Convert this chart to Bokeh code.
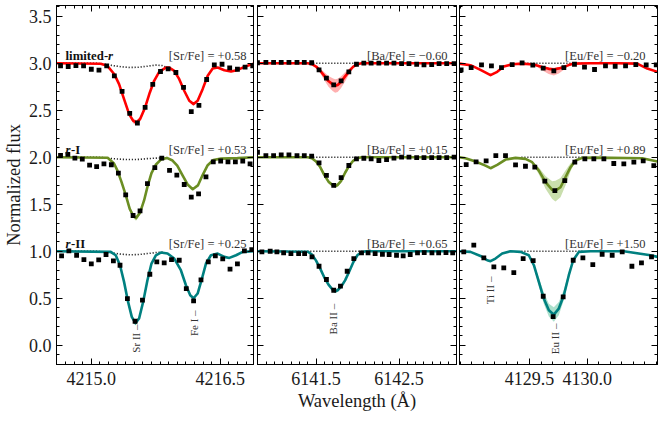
import numpy as np
from bokeh.plotting import figure
from bokeh.models import (Label, FixedTicker, LinearAxis, Range1d,
                          PrintfTickFormatter)
from bokeh.layouts import row
from bokeh.embed import file_html
from bokeh.resources import INLINE

# ============================ data ============================
ROW_NAMES = ["limited-r", "r-I", "r-II"]
ROW_OFFSETS = [2.0, 1.0, 0.0]
ROW_LABEL_PARTS = [[("limited-", "bold"), ("r", "bold italic")],
                   [("r", "bold italic"), ("-I", "bold")],
                   [("r", "bold italic"), ("-II", "bold")]]

Y_TICKS = [0.0, 0.5, 1.0, 1.5, 2.0, 2.5, 3.0, 3.5]
Y_LABEL = "Normalized flux"
X_LABEL = "Wavelength (Å)"

# ---------- Sr panel ----------
SR_X_TICKS = [4215.0, 4216.5]
SR_ABUND = ["[Sr/Fe] = +0.58", "[Sr/Fe] = +0.53", "[Sr/Fe] = +0.25"]
SR_LINE_IDS = ["Sr II –", "Fe I –"]
SR_LINE_WL = [4215.52, 4216.19]

SR_SYN_X_LIM = [4214.595, 4215.109, 4215.187, 4215.268, 4215.323, 4215.381, 4215.440, 4215.486, 4215.525, 4215.568, 4215.626, 4215.681, 4215.731, 4215.790, 4215.867, 4215.906, 4215.965, 4216.023, 4216.081, 4216.140, 4216.190, 4216.237, 4216.295, 4216.354, 4216.412, 4216.470, 4216.548, 4216.626, 4216.704, 4216.781, 4216.887]
SR_SYN_Y_LIM = [1.0, 0.995, 0.972, 0.883, 0.777, 0.618, 0.459, 0.389, 0.368, 0.406, 0.530, 0.689, 0.813, 0.908, 0.954, 0.954, 0.919, 0.830, 0.707, 0.601, 0.565, 0.601, 0.724, 0.866, 0.943, 0.954, 0.926, 0.912, 0.929, 0.961, 0.995]
SR_SYN_X_RI = [4214.595, 4215.19, 4215.264, 4215.303, 4215.35, 4215.40, 4215.447, 4215.486, 4215.52, 4215.567, 4215.614, 4215.653, 4215.70, 4215.75, 4215.809, 4215.879, 4215.945, 4216.00, 4216.06, 4216.12, 4216.18, 4216.24, 4216.295, 4216.354, 4216.42, 4216.51, 4216.70, 4216.887]
SR_SYN_Y_RI = [1.0, 0.995, 0.933, 0.86, 0.74, 0.60, 0.45, 0.38, 0.352, 0.41, 0.54, 0.685, 0.83, 0.92, 0.975, 0.993, 0.965, 0.91, 0.81, 0.71, 0.66, 0.70, 0.81, 0.915, 0.97, 0.985, 0.99, 1.0]
SR_SYN_X_RII = [4214.595, 4215.226, 4215.284, 4215.334, 4215.381, 4215.428, 4215.471, 4215.513, 4215.556, 4215.603, 4215.653, 4215.700, 4215.751, 4215.809, 4215.887, 4215.965, 4216.042, 4216.101, 4216.151, 4216.190, 4216.237, 4216.287, 4216.334, 4216.392, 4216.470, 4216.548, 4216.606, 4216.684, 4216.762, 4216.887]
SR_SYN_Y_RII = [1.0, 0.993, 0.957, 0.851, 0.674, 0.461, 0.301, 0.235, 0.284, 0.461, 0.691, 0.869, 0.957, 0.986, 0.975, 0.922, 0.798, 0.638, 0.532, 0.500, 0.55, 0.709, 0.869, 0.957, 0.975, 0.940, 0.929, 0.957, 0.993, 1.0]

SR_BAND_X_LIM = [4215.323, 4215.381, 4215.440, 4215.486, 4215.525, 4215.568, 4215.626, 4215.681, 4215.731]
SR_BAND_LO_LIM = [0.767, 0.600, 0.437, 0.362, 0.340, 0.380, 0.508, 0.672, 0.803]
SR_BAND_HI_LIM = [0.787, 0.632, 0.478, 0.412, 0.392, 0.430, 0.550, 0.705, 0.823]
SR_BAND_X_RI = [4215.35, 4215.40, 4215.447, 4215.486, 4215.52, 4215.567, 4215.614, 4215.653, 4215.70]
SR_BAND_LO_RI = [0.73, 0.585, 0.43, 0.355, 0.325, 0.385, 0.52, 0.67, 0.82]
SR_BAND_HI_RI = [0.75, 0.615, 0.47, 0.405, 0.375, 0.435, 0.56, 0.70, 0.84]
SR_BAND_X_RII = [4215.334, 4215.381, 4215.428, 4215.471, 4215.513, 4215.556, 4215.603, 4215.653, 4215.700]
SR_BAND_LO_RII = [0.84, 0.66, 0.445, 0.28, 0.21, 0.265, 0.445, 0.675, 0.86]
SR_BAND_HI_RII = [0.86, 0.69, 0.48, 0.32, 0.26, 0.305, 0.48, 0.705, 0.88]

SR_DOT_X = [4214.60, 4215.05, 4215.15, 4215.25, 4215.35, 4215.45, 4215.55, 4215.65, 4215.75, 4215.82, 4215.88]
SR_DOT_Y_LIM = [1.0, 1.0, 0.99, 0.975, 0.962, 0.955, 0.957, 0.968, 0.98, 0.975, 0.955]
SR_DOT_Y_RI = [1.0, 1.0, 0.995, 0.985, 0.978, 0.975, 0.977, 0.985, 0.99, 0.993, 0.993]
SR_DOT_Y_RII = [1.0, 1.0, 0.993, 0.98, 0.968, 0.962, 0.965, 0.975, 0.985, 0.99, 0.977]

SR_OBS_X_LIM = [4214.642, 4214.731, 4214.821, 4214.910, 4215.000, 4215.089, 4215.179, 4215.268, 4215.358, 4215.447, 4215.536, 4215.626, 4215.715, 4215.805, 4215.894, 4215.984, 4216.073, 4216.163, 4216.252, 4216.342, 4216.431, 4216.521, 4216.610, 4216.700, 4216.789, 4216.878]
SR_OBS_Y_LIM = [0.972, 0.965, 0.975, 0.972, 0.936, 0.926, 0.972, 0.866, 0.700, 0.466, 0.364, 0.530, 0.774, 0.912, 0.940, 0.901, 0.742, 0.484, 0.551, 0.827, 0.982, 0.989, 0.951, 0.936, 0.958, 0.972]
SR_OBS_X_RI = [4214.642, 4214.727, 4214.809, 4214.895, 4214.980, 4215.062, 4215.147, 4215.233, 4215.315, 4215.400, 4215.486, 4215.567, 4215.653, 4215.739, 4215.820, 4215.910, 4215.995, 4216.081, 4216.163, 4216.248, 4216.334, 4216.419, 4216.505, 4216.590, 4216.676, 4216.762, 4216.847]
SR_OBS_Y_RI = [1.02, 1.03, 0.99, 0.98, 0.915, 0.90, 0.93, 0.92, 0.83, 0.60, 0.38, 0.43, 0.72, 0.89, 0.99, 0.86, 0.81, 0.71, 0.575, 0.61, 0.79, 0.95, 0.96, 0.95, 0.95, 0.96, 0.93]
SR_OBS_X_RII = [4214.654, 4214.739, 4214.829, 4214.914, 4215.000, 4215.086, 4215.171, 4215.257, 4215.334, 4215.420, 4215.509, 4215.595, 4215.681, 4215.762, 4215.848, 4215.933, 4216.023, 4216.105, 4216.190, 4216.276, 4216.361, 4216.443, 4216.529, 4216.614, 4216.700, 4216.781, 4216.867]
SR_OBS_Y_RII = [0.950, 1.004, 0.957, 0.911, 0.865, 0.908, 0.965, 0.897, 0.851, 0.496, 0.255, 0.479, 0.755, 0.887, 0.876, 0.911, 0.904, 0.603, 0.472, 0.695, 0.887, 0.950, 0.918, 0.809, 0.865, 1.004, 1.018]

# ---------- Ba panel ----------
BA_X_TICKS = [6141.5, 6142.5]
BA_ABUND = ["[Ba/Fe] = \u22120.60", "[Ba/Fe] = +0.15", "[Ba/Fe] = +0.65"]
BA_LINE_IDS = ["Ba II –"]
BA_LINE_WL = [6141.71]

BA_SYN_X = [6140.78, 6141.40, 6141.45, 6141.50, 6141.55, 6141.60, 6141.65, 6141.70, 6141.73, 6141.76, 6141.80, 6141.85, 6141.90, 6141.95, 6142.00, 6142.05, 6142.10, 6143.21]
BA_SYN_Y_LIM = [1.0, 1.0, 0.99, 0.965, 0.92, 0.865, 0.81, 0.775, 0.76, 0.768, 0.80, 0.86, 0.915, 0.965, 0.99, 1.0, 1.0, 1.0]
BA_SYN_Y_RI = [1.0, 1.0, 0.99, 0.955, 0.895, 0.81, 0.74, 0.703, 0.693, 0.705, 0.745, 0.835, 0.91, 0.965, 0.99, 1.0, 1.0, 1.0]
BA_SYN_Y_RII = [1.0, 0.995, 0.965, 0.90, 0.815, 0.72, 0.645, 0.59, 0.574, 0.585, 0.62, 0.69, 0.785, 0.885, 0.96, 0.99, 1.0, 1.0]

BA_BAND_X = [6141.50, 6141.55, 6141.60, 6141.65, 6141.70, 6141.73, 6141.76, 6141.80, 6141.85, 6141.90, 6141.95]
BA_BAND_LO_LIM = [0.955, 0.895, 0.82, 0.75, 0.705, 0.685, 0.695, 0.735, 0.805, 0.885, 0.955]
BA_BAND_HI_LIM = [0.975, 0.945, 0.905, 0.865, 0.84, 0.83, 0.835, 0.86, 0.905, 0.945, 0.975]
BA_BAND_LO_RI = [0.95, 0.885, 0.795, 0.722, 0.683, 0.673, 0.685, 0.727, 0.82, 0.90, 0.96]
BA_BAND_HI_RI = [0.96, 0.905, 0.825, 0.758, 0.723, 0.713, 0.725, 0.763, 0.85, 0.92, 0.97]
BA_BAND_LO_RII = [0.895, 0.805, 0.708, 0.63, 0.573, 0.556, 0.567, 0.605, 0.678, 0.775, 0.88]
BA_BAND_HI_RII = [0.905, 0.825, 0.732, 0.66, 0.607, 0.592, 0.603, 0.635, 0.702, 0.795, 0.89]

BA_DOT_X = [6140.78, 6143.21]
BA_DOT_Y = [1.0, 1.0]

BA_OBS_X_LIM = [6140.794, 6140.895, 6140.988, 6141.080, 6141.173, 6141.270, 6141.358, 6141.447, 6141.536, 6141.625, 6141.713, 6141.802, 6141.895, 6141.987, 6142.076, 6142.164, 6142.257, 6142.350, 6142.439, 6142.531, 6142.620, 6142.713, 6142.801, 6142.894, 6142.983, 6143.075, 6143.164]
BA_OBS_Y_LIM = [1.005, 1.008, 1.008, 1.008, 1.008, 1.008, 1.008, 1.005, 0.929, 0.841, 0.770, 0.813, 0.908, 0.989, 1.0, 1.0, 1.0, 1.0, 1.0, 0.996, 0.996, 0.989, 0.982, 0.986, 0.996, 0.996, 0.996]
BA_OBS_X_RI = [6140.794, 6140.895, 6140.988, 6141.080, 6141.173, 6141.270, 6141.358, 6141.447, 6141.536, 6141.625, 6141.713, 6141.802, 6141.895, 6141.987, 6142.076, 6142.164, 6142.257, 6142.350, 6142.439, 6142.531, 6142.620, 6142.713, 6142.801, 6142.894, 6142.983, 6143.075, 6143.164]
BA_OBS_Y_RI = [1.053, 1.018, 1.018, 1.025, 1.025, 1.018, 1.018, 1.011, 0.940, 0.806, 0.700, 0.784, 0.912, 0.982, 0.989, 0.982, 0.965, 0.975, 0.99, 1.0, 1.0, 0.996, 0.996, 0.996, 0.996, 0.996, 1.0]
BA_OBS_X_RII = [6140.847, 6140.947, 6141.028, 6141.109, 6141.197, 6141.290, 6141.362, 6141.451, 6141.536, 6141.625, 6141.713, 6141.794, 6141.875, 6141.955, 6142.048, 6142.127, 6142.212, 6142.300, 6142.381, 6142.470, 6142.550, 6142.635, 6142.723, 6142.804, 6142.897, 6142.978, 6143.066, 6143.147]
BA_OBS_Y_RII = [0.993, 1.0, 0.993, 0.982, 0.975, 0.975, 0.975, 0.940, 0.840, 0.699, 0.585, 0.628, 0.787, 0.922, 0.982, 0.982, 0.975, 0.968, 0.965, 0.957, 0.950, 0.965, 0.982, 0.986, 0.982, 0.982, 0.986, 0.982]

# ---------- Eu panel ----------
EU_X_TICKS = [4129.5, 4130.0]
EU_ABUND = ["[Eu/Fe] = \u22120.20", "[Eu/Fe] = +0.89", "[Eu/Fe] = +1.50"]
EU_LINE_IDS = ["Ti II –", "Eu II –"]
EU_LINE_WL = [4129.16, 4129.72]

EU_SYN_X_LIM = [4128.893, 4128.988, 4129.075, 4129.162, 4129.220, 4129.277, 4129.350, 4129.436, 4129.538, 4129.58, 4129.624, 4129.667, 4129.711, 4129.754, 4129.798, 4129.84, 4129.885, 4130.029, 4130.260, 4130.434, 4130.521, 4130.61]
EU_SYN_Y_LIM = [0.996, 0.979, 0.929, 0.873, 0.908, 0.965, 0.989, 0.996, 0.986, 0.97, 0.954, 0.94, 0.933, 0.945, 0.961, 0.98, 0.996, 1.0, 1.0, 0.996, 0.943, 0.908]
EU_SYN_X_RI = [4128.893, 4128.945, 4129.032, 4129.118, 4129.162, 4129.220, 4129.292, 4129.379, 4129.465, 4129.523, 4129.581, 4129.639, 4129.697, 4129.725, 4129.769, 4129.812, 4129.856, 4129.899, 4129.957, 4130.072, 4130.477, 4130.61]
EU_SYN_Y_RI = [1.0, 0.989, 0.954, 0.911, 0.883, 0.918, 0.975, 0.993, 0.982, 0.947, 0.858, 0.734, 0.652, 0.645, 0.681, 0.787, 0.894, 0.965, 0.993, 0.996, 0.989, 0.955]
EU_SYN_X_RII = [4128.893, 4128.988, 4129.075, 4129.133, 4129.162, 4129.205, 4129.263, 4129.335, 4129.422, 4129.494, 4129.538, 4129.581, 4129.624, 4129.668, 4129.711, 4129.754, 4129.798, 4129.841, 4129.879, 4129.928, 4130.029, 4130.318, 4130.549, 4130.61]
EU_SYN_Y_RII = [1.0, 0.993, 0.950, 0.904, 0.894, 0.922, 0.975, 1.0, 0.993, 0.957, 0.851, 0.674, 0.496, 0.372, 0.325, 0.39, 0.532, 0.745, 0.904, 0.993, 1.0, 1.0, 0.957, 0.94]

EU_BAND_X_LIM = [4129.538, 4129.58, 4129.624, 4129.667, 4129.711, 4129.754, 4129.798, 4129.84]
EU_BAND_LO_LIM = [0.98, 0.95, 0.915, 0.885, 0.87, 0.89, 0.93, 0.97]
EU_BAND_HI_LIM = [0.99, 0.978, 0.966, 0.957, 0.952, 0.958, 0.97, 0.985]
EU_BAND_X_RI = [4129.523, 4129.581, 4129.639, 4129.697, 4129.725, 4129.769, 4129.812, 4129.856, 4129.899]
EU_BAND_LO_RI = [0.94, 0.82, 0.665, 0.555, 0.53, 0.575, 0.70, 0.85, 0.955]
EU_BAND_HI_RI = [0.955, 0.89, 0.80, 0.745, 0.75, 0.78, 0.86, 0.935, 0.975]
EU_BAND_X_RII = [4129.538, 4129.581, 4129.624, 4129.668, 4129.711, 4129.754, 4129.798, 4129.841, 4129.879]
EU_BAND_LO_RII = [0.83, 0.63, 0.44, 0.305, 0.25, 0.32, 0.48, 0.71, 0.895]
EU_BAND_HI_RII = [0.87, 0.72, 0.56, 0.44, 0.405, 0.46, 0.59, 0.78, 0.915]

EU_DOT_X = [4129.43, 4129.96]
EU_DOT_Y = [1.0, 1.0]

EU_OBS_X_LIM = [4128.907, 4128.994, 4129.084, 4129.170, 4129.257, 4129.350, 4129.436, 4129.529, 4129.619, 4129.711, 4129.798, 4129.890, 4129.977, 4130.064, 4130.159, 4130.243, 4130.333, 4130.422, 4130.512, 4130.599]
EU_OBS_Y_LIM = [0.929, 0.954, 0.982, 0.972, 0.954, 0.986, 1.004, 0.979, 0.947, 0.919, 0.954, 0.989, 0.958, 0.933, 0.972, 0.968, 0.972, 0.986, 0.982, 0.982]
EU_OBS_X_RI = [4128.951, 4129.037, 4129.124, 4129.208, 4129.292, 4129.379, 4129.465, 4129.546, 4129.633, 4129.720, 4129.806, 4129.893, 4129.980, 4130.058, 4130.145, 4130.231, 4130.318, 4130.405, 4130.486, 4130.578]
EU_OBS_Y_RI = [0.922, 0.950, 0.961, 1.018, 1.018, 0.918, 0.904, 0.894, 0.745, 0.645, 0.752, 0.947, 0.982, 0.982, 0.982, 0.933, 0.929, 0.947, 0.961, 0.911]
EU_OBS_X_RII = [4128.930, 4129.017, 4129.104, 4129.191, 4129.277, 4129.364, 4129.445, 4129.532, 4129.619, 4129.705, 4129.792, 4129.879, 4129.963, 4130.049, 4130.130, 4130.217, 4130.304, 4130.388, 4130.471, 4130.558]
EU_OBS_Y_RII = [0.993, 1.064, 0.929, 0.833, 0.823, 0.773, 0.922, 0.901, 0.521, 0.305, 0.514, 0.904, 0.929, 0.858, 0.968, 0.957, 0.993, 0.840, 0.876, 0.940]

# ============================ style ============================
FONT = "Liberation Serif"
LINE_COLORS = ["#ff0000", "#6b8e23", "#008080"]
BAND_COLORS = ["#ff7070", "#9dc26a", "#66c7a3"]
Y_RANGE = (-0.205, 3.614)
FRAME_H = 359

PANELS = [
    dict(xr=(4214.595, 4216.887), ticks=SR_X_TICKS, minor=(4214.6, 4216.85),
         fw=197, bl=54, br=2, abund=SR_ABUND, abund_dx=-7,
         ids=SR_LINE_IDS, ids_wl=SR_LINE_WL, ids_top=[0.22, 0.37],
         syn=[(SR_SYN_X_LIM, SR_SYN_Y_LIM), (SR_SYN_X_RI, SR_SYN_Y_RI), (SR_SYN_X_RII, SR_SYN_Y_RII)],
         band=[(SR_BAND_X_LIM, SR_BAND_LO_LIM, SR_BAND_HI_LIM),
               (SR_BAND_X_RI, SR_BAND_LO_RI, SR_BAND_HI_RI),
               (SR_BAND_X_RII, SR_BAND_LO_RII, SR_BAND_HI_RII)],
         dot=[(SR_DOT_X, SR_DOT_Y_LIM), (SR_DOT_X, SR_DOT_Y_RI), (SR_DOT_X, SR_DOT_Y_RII)],
         obs=[(SR_OBS_X_LIM, SR_OBS_Y_LIM), (SR_OBS_X_RI, SR_OBS_Y_RI), (SR_OBS_X_RII, SR_OBS_Y_RII)]),
    dict(xr=(6140.794, 6143.193), ticks=BA_X_TICKS, minor=(6140.8, 6143.15),
         fw=199, bl=2, br=1, abund=BA_ABUND, abund_dx=-9,
         ids=BA_LINE_IDS, ids_wl=BA_LINE_WL, ids_top=[0.44],
         syn=[(BA_SYN_X, BA_SYN_Y_LIM), (BA_SYN_X, BA_SYN_Y_RI), (BA_SYN_X, BA_SYN_Y_RII)],
         band=[(BA_BAND_X, BA_BAND_LO_LIM, BA_BAND_HI_LIM),
               (BA_BAND_X, BA_BAND_LO_RI, BA_BAND_HI_RI),
               (BA_BAND_X, BA_BAND_LO_RII, BA_BAND_HI_RII)],
         dot=[(BA_DOT_X, BA_DOT_Y)] * 3,
         obs=[(BA_OBS_X_LIM, BA_OBS_Y_LIM), (BA_OBS_X_RI, BA_OBS_Y_RI), (BA_OBS_X_RII, BA_OBS_Y_RII)]),
    dict(xr=(4128.893, 4130.61), ticks=EU_X_TICKS, minor=(4128.9, 4130.65),
         fw=198, bl=2, br=2, abund=EU_ABUND, abund_dx=-12,
         ids=EU_LINE_IDS, ids_wl=EU_LINE_WL, ids_top=[0.73, 0.23],
         syn=[(EU_SYN_X_LIM, EU_SYN_Y_LIM), (EU_SYN_X_RI, EU_SYN_Y_RI), (EU_SYN_X_RII, EU_SYN_Y_RII)],
         band=[(EU_BAND_X_LIM, EU_BAND_LO_LIM, EU_BAND_HI_LIM),
               (EU_BAND_X_RI, EU_BAND_LO_RI, EU_BAND_HI_RI),
               (EU_BAND_X_RII, EU_BAND_LO_RII, EU_BAND_HI_RII)],
         dot=[(EU_DOT_X, EU_DOT_Y)] * 3,
         obs=[(EU_OBS_X_LIM, EU_OBS_Y_LIM), (EU_OBS_X_RI, EU_OBS_Y_RI), (EU_OBS_X_RII, EU_OBS_Y_RII)]),
]

Y_MINOR = [round(v, 2) for v in np.arange(-0.2, 3.65, 0.1)]


def style_axis(ax, labels):
    ax.axis_line_color = "black"
    ax.axis_line_width = 1
    ax.major_tick_line_color = "black"
    ax.minor_tick_line_color = "black"
    ax.major_tick_in = 6
    ax.major_tick_out = 0
    ax.minor_tick_in = 3
    ax.minor_tick_out = 0
    if labels:
        ax.major_label_text_font = FONT
        ax.major_label_text_font_size = "18px"
        ax.major_label_text_color = "#1a1a1a"
        ax.major_label_standoff = 7
    else:
        ax.major_label_text_font_size = "0px"
        ax.major_label_text_alpha = 0
        ax.major_label_standoff = 0


yr = Range1d(*Y_RANGE)
figs = []
for k, pn in enumerate(PANELS):
    first = (k == 0)
    p = figure(frame_width=pn["fw"], frame_height=FRAME_H,
               x_range=Range1d(*pn["xr"]), y_range=yr,
               min_border_left=pn["bl"], min_border_right=pn["br"],
               min_border_top=5, min_border_bottom=50,
               x_axis_location=None, y_axis_location=None,
               output_backend="svg", toolbar_location=None)
    p.xgrid.visible = False
    p.ygrid.visible = False
    p.outline_line_color = "black"
    p.background_fill_color = "white"
    p.border_fill_color = "white"

    xminor = [round(v, 2) for v in np.arange(pn["minor"][0], pn["minor"][1], 0.1)]
    xt = FixedTicker(ticks=pn["ticks"], minor_ticks=xminor)
    yt = FixedTicker(ticks=Y_TICKS, minor_ticks=Y_MINOR)
    fmt = PrintfTickFormatter(format="%.1f")

    bottom = LinearAxis(ticker=xt, formatter=fmt)
    style_axis(bottom, True)
    if k == 1:
        bottom.axis_label = X_LABEL
        bottom.axis_label_text_font = FONT
        bottom.axis_label_text_font_size = "18.5px"
        bottom.axis_label_text_font_style = "normal"
        bottom.axis_label_text_color = "#1a1a1a"
        bottom.axis_label_standoff = 3
    top = LinearAxis(ticker=xt, formatter=fmt)
    style_axis(top, False)
    left = LinearAxis(ticker=yt, formatter=fmt)
    style_axis(left, first)
    if first:
        left.major_label_standoff = 5
        left.axis_label = Y_LABEL
        left.axis_label_text_font = FONT
        left.axis_label_text_font_size = "18.5px"
        left.axis_label_text_font_style = "normal"
        left.axis_label_text_color = "#1a1a1a"
        left.axis_label_standoff = 2
    right = LinearAxis(ticker=yt, formatter=fmt)
    style_axis(right, False)
    p.add_layout(bottom, "below")
    p.add_layout(top, "above")
    p.add_layout(left, "left")
    p.add_layout(right, "right")

    for i in range(3):
        off = ROW_OFFSETS[i]
        dx, dy = pn["dot"][i]
        p.line(dx, np.array(dy) + off, line_color="black", line_width=1.6,
               line_dash="1 2")
        bx, blo, bhi = pn["band"][i]
        p.varea(x=bx, y1=np.array(blo) + off, y2=np.array(bhi) + off,
                fill_color=BAND_COLORS[i], fill_alpha=0.55)
        sx, sy = pn["syn"][i]
        p.line(sx, np.array(sy) + off, line_color=LINE_COLORS[i],
               line_width=2.6, line_join="round", line_cap="round")
        ox, oy = pn["obs"][i]
        p.scatter(ox, np.array(oy) + off, marker="square", size=4.8,
                  fill_color="black", line_color=None)
        # abundance annotation
        p.add_layout(Label(x=pn["xr"][1], y=off + 1.078, x_offset=pn["abund_dx"],
                           text=pn["abund"][i], text_align="right",
                           text_baseline="alphabetic", text_font=FONT,
                           text_font_size="12.5px", text_color="#333333"))
        if first:
            part_dx = [[0, 42.5], [0, 5.5], [0, 5.5]][i]
            for (txt, style), dxp in zip(ROW_LABEL_PARTS[i], part_dx):
                p.add_layout(Label(x=4214.70, y=off + 1.078, x_offset=dxp,
                                   text=txt, text_font=FONT,
                                   text_font_style=style,
                                   text_font_size="12.8px",
                                   text_baseline="alphabetic",
                                   text_color="#111111"))

    for txt, wl, ytop in zip(pn["ids"], pn["ids_wl"], pn["ids_top"]):
        p.add_layout(Label(x=wl, y=ytop, text=txt, angle=np.pi / 2,
                           text_align="right", text_baseline="middle",
                           text_font=FONT, text_font_size="11px",
                           text_color="#333333"))
    figs.append(p)

layout = row(*figs, spacing=0)
open("out.html", "w").write(file_html(layout, INLINE, title="spectra"))
